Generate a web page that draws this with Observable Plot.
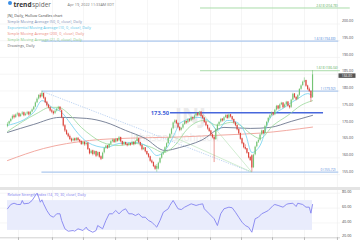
<!DOCTYPE html>
<html><head><meta charset="utf-8">
<script src="https://cdn.jsdelivr.net/npm/d3@7"></script>
<script src="https://cdn.jsdelivr.net/npm/@observablehq/plot@0.6"></script>
<style>
html,body{margin:0;padding:0;background:#fff;}
#chart{width:360px;height:240px;overflow:hidden;position:relative;}
#chart svg{display:block;}
.sep{height:3px;background:#e4e4e4;}
</style></head><body><div id="chart"></div>
<script>
// ---- daily candles (trading-day index 0..186) ----
const open = [169.4,170.1,170.9,171.6,172.5,172.1,172.9,173.2,172.4,173.0,
173.5,172.7,173.1,173.6,172.9,173.7,174.4,175.2,176.5,177.6,
178.7,178.3,179.2,177.9,176.6,175.7,175.0,174.1,173.7,173.3,
174.0,174.6,175.1,174.1,171.8,169.6,168.1,167.1,166.4,165.6,
165.1,165.7,165.2,165.9,165.3,164.9,164.1,164.7,164.0,164.4,
162.6,161.3,162.1,161.1,161.9,160.6,161.6,160.3,159.7,161.5,
162.9,163.6,163.0,164.1,164.9,165.4,164.7,165.6,165.1,166.1,
164.9,164.0,164.6,164.1,163.7,164.3,163.9,164.7,164.0,164.9,
165.7,164.6,163.7,162.5,163.0,161.9,161.1,160.3,159.1,158.6,
157.5,157.4,156.7,158.5,159.9,161.1,161.6,163.1,164.3,165.9,
167.1,168.7,170.5,171.1,170.3,169.1,168.3,168.9,170.0,170.9,
170.5,171.5,171.1,172.1,171.7,172.6,173.3,172.7,173.7,172.5,
171.9,170.7,169.7,168.7,168.0,166.9,166.1,165.5,168.5,169.9,
170.7,171.6,171.1,172.1,172.7,171.9,172.9,172.3,171.5,170.5,
169.7,168.5,167.3,165.7,164.3,163.1,162.7,161.5,160.1,160.6,
157.1,160.9,163.3,164.7,165.3,166.9,168.1,167.3,169.5,170.7,
171.9,172.7,173.5,172.9,174.3,175.5,174.7,175.9,176.4,175.1,
175.9,176.7,175.5,175.1,177.3,179.1,178.1,177.5,178.7,180.5,
181.6,182.7,183.1,181.5,180.5,179.9,178.0];
const high = [170.5,171.0,171.8,172.8,172.9,173.1,173.6,173.4,173.2,173.8,
173.7,173.4,173.9,173.8,173.9,174.6,175.4,176.7,177.9,178.9,
179.2,179.92,179.4,178.1,176.9,176.0,175.3,174.5,174.0,174.2,
174.8,175.4,175.3,174.3,172.1,169.9,168.4,167.4,166.8,165.9,
165.9,165.9,166.1,166.0,165.5,165.1,164.9,164.8,164.6,164.6,
162.8,162.3,162.3,162.1,162.0,161.8,161.7,160.6,161.7,163.1,
163.8,163.7,164.3,165.1,165.6,165.5,165.8,165.8,166.4,166.2,
165.0,164.8,164.7,164.3,164.5,164.4,164.9,164.8,165.1,166.6,
165.8,164.7,163.9,163.2,163.1,162.0,161.3,160.5,159.4,158.8,
157.8,158.0,158.7,160.1,161.3,161.9,163.3,164.5,166.1,167.3,
168.9,170.7,171.4,171.3,170.5,169.4,169.1,170.2,171.1,171.0,
171.7,171.6,172.3,172.2,172.8,173.5,173.4,173.9,173.8,172.7,
172.0,170.9,169.9,169.0,168.2,167.1,166.4,168.7,170.1,170.9,
171.8,171.7,172.3,172.9,172.8,173.1,173.0,172.4,171.6,170.7,
169.8,168.6,167.4,165.9,164.6,163.9,162.8,161.6,160.4,160.9,
161.1,163.5,164.9,165.6,167.1,168.3,168.2,169.7,170.9,172.1,
172.9,173.7,173.6,174.5,175.7,175.6,176.1,176.6,176.5,176.1,
176.9,176.8,175.7,177.5,179.3,179.2,178.2,178.9,180.7,181.8,
182.9,183.9,183.2,181.7,180.9,180.0,186.1];
const low = [169.0,169.8,170.5,171.3,171.6,171.8,172.5,172.0,172.1,172.7,
172.3,172.4,172.8,172.5,172.7,173.4,174.1,175.0,176.2,177.3,
177.7,178.0,177.5,176.2,175.2,174.6,173.7,173.2,172.8,173.0,
173.7,174.3,173.9,171.7,169.2,167.6,166.7,166.0,165.2,164.6,
164.8,164.8,164.9,164.9,164.4,163.7,163.8,163.5,163.6,162.2,
160.9,161.0,160.6,160.8,160.1,160.3,159.9,159.2,159.5,161.2,
162.6,162.5,162.8,163.8,164.5,164.3,164.4,164.7,164.9,164.5,
163.6,163.7,163.7,163.3,163.4,163.5,163.7,163.6,163.8,164.7,
164.2,163.3,162.1,162.2,161.5,160.7,159.9,158.7,158.2,157.1,
156.3,155.72,156.4,158.2,159.6,160.7,161.3,162.8,164.0,165.6,
166.8,168.4,170.1,169.9,168.7,167.8,168.0,168.6,169.7,170.0,
170.2,170.6,170.8,171.2,171.4,172.3,172.3,172.4,172.1,171.5,
170.3,169.3,168.3,167.6,166.5,165.7,158.6,165.2,168.2,169.6,
170.4,170.7,170.8,171.8,171.5,171.6,171.9,171.1,170.1,169.3,
168.1,166.9,165.3,163.9,162.7,162.3,161.1,159.7,158.9,155.72,
156.8,160.6,163.0,164.3,165.0,166.6,166.9,167.0,169.2,170.4,
171.6,172.4,172.5,172.6,174.0,174.3,174.4,175.6,174.7,174.8,
175.6,175.1,174.6,174.8,177.0,177.7,177.0,177.2,178.4,180.2,
181.3,182.4,181.1,180.1,179.5,176.6,177.8];
const close = [170.0,170.8,171.5,172.4,172.0,172.8,173.1,172.3,172.9,173.4,
172.6,173.0,173.5,172.8,173.6,174.3,175.1,176.4,177.5,178.6,
178.1,179.3,177.8,176.5,175.6,174.9,174.0,173.6,173.2,173.9,
174.5,175.0,174.2,172.0,169.5,168.0,167.0,166.3,165.5,165.0,
165.6,165.1,165.8,165.2,164.8,164.0,164.6,163.9,164.3,162.5,
161.2,162.0,161.0,161.8,160.5,161.5,160.2,159.6,161.4,162.8,
163.5,162.9,164.0,164.8,165.3,164.6,165.5,165.0,166.0,164.8,
163.9,164.5,164.0,163.6,164.2,163.8,164.6,163.9,164.8,165.6,
164.5,163.6,162.4,162.9,161.8,161.0,160.2,159.0,158.5,157.4,
156.6,156.6,158.4,159.8,161.0,161.5,163.0,164.2,165.8,167.0,
168.6,170.4,171.0,170.2,169.0,168.2,168.8,169.9,170.8,170.4,
171.4,171.0,172.0,171.6,172.5,173.2,172.6,173.6,172.4,171.8,
170.6,169.6,168.6,167.9,166.8,166.0,165.4,168.4,169.8,170.6,
171.5,171.0,172.0,172.6,171.8,172.8,172.2,171.4,170.4,169.6,
168.4,167.2,165.6,164.2,163.0,162.6,161.4,160.0,159.2,157.0,
160.8,163.2,164.6,165.2,166.8,168.0,167.2,169.4,170.6,171.8,
172.6,173.4,172.8,174.2,175.4,174.6,175.8,176.3,175.0,175.8,
176.6,175.4,175.0,177.2,179.0,178.0,177.4,178.6,180.4,181.5,
182.6,183.0,181.4,180.4,179.8,177.8,184.8];

// ---- indicators (at sample days) ----
const sma50Day = [0,16,32,48,60,72,84,96,105,118,132,148,160,173,186];
const sma50Val = [167.6,170.0,172.1,171.8,170.6,168.2,165.8,162.2,163.1,165.2,169.1,168.8,169.1,170.9,172.7];
const ema10Day = [0,16,21,28,33,37,43,49,60,68,78,86,91,96,102,105,116,124,128,134,140,145,149,154,160,168,177,183,186];
const ema10Val = [169.7,173.6,177.1,174.8,173.6,171.2,167.3,164.6,163.1,164.3,164.6,163.1,160.7,162.2,167.3,170.3,172.1,170.6,168.2,171.2,170.6,167.3,161.6,163.7,171.8,174.8,177.7,179.2,178.6];
const sma200Day = [0,22,50,75,102,130,154,186];
const sma200Val = [159.2,162.8,165.2,165.9,166.2,166.8,167.4,169.2];
const sma21Day = [0,18,26,31,37,45,51,58,68,78,88,95,102,110,120,128,136,142,148,154,162,171,179,186];
const sma21Val = [167.9,173.3,175.1,175.1,173.3,169.1,166.7,164.6,163.7,164.3,163.1,161.6,163.7,168.8,171.2,169.7,170.6,169.7,167.3,165.8,169.7,172.7,175.7,177.1];

const rsiDay = [0,2,4,6,8,9,10,13,15,17,18,19,20,21,22,24,26,28,30,32,33,35,37,40,41,43,46,48,49,52,54,55,58,60,62,64,66,68,70,72,74,76,78,80,82,84,86,88,90,91,93,95,98,99,101,104,106,108,112,115,117,119,120,123,126,128,130,132,135,137,139,141,143,145,147,149,151,153,155,157,159,162,163,165,168,170,171,174,176,177,180,182,184,185,186];
const rsiVal = [59.0,64.8,66.5,64.8,64.8,70.2,65.7,66.5,70.2,76.9,80.0,74.6,67.9,71.1,65.7,56.7,50.0,47.7,52.3,52.3,43.3,32.1,28.9,29.8,28.9,32.1,29.8,34.3,30.8,27.5,29.8,36.5,32.1,43.3,52.3,52.3,56.7,52.3,56.7,59.0,52.3,52.3,50.0,52.3,47.7,47.7,43.3,41.0,36.5,34.3,43.3,54.4,59.0,63.5,70.2,59.0,58.0,61.2,65.7,63.5,64.8,65.7,59.0,52.3,45.6,36.5,52.3,59.0,61.2,60.4,54.4,47.7,41.0,36.5,34.3,27.5,45.6,47.7,52.3,54.4,56.7,63.5,64.8,63.5,61.2,64.8,65.7,66.5,62.1,66.5,64.8,61.2,61.2,53.1,64.8];

// ---- drawings ----
const fibBlueLevel = [0, 1, 1.618];
const fibBluePrice = [155.72, 179.92, 194.88];
const fibGreenLevel = [1.618, 2.618];
const fibGreenPrice = [186.04, 204.78];
const levelLine = 173.50;
const peakDay = 21, lowDay = 149, greenStartDay = 117.7;
const fanEndDay = [118.9, 99.4];
const fanEndPrice = [173.26, 166.69];

// ---- axis ticks ----
const priceTicks = [155,160,165,170,175,180,185,190,195,200];
const rsiTicks = [20,40,60,80];
const monthGrid = [6.7,27.4,46.3,65.9,85.4,104.3,123.8,142.7,161.6,181.1,201.2];

// ---- legend text ----
const legendText = ["JNJ, Daily, Hollow Candles chart","Simple Moving Average (50, 0, close), Daily","Exponential Moving Average (10, 0, close), Daily","Simple Moving Average (200, 0, close), Daily","Simple Moving Average (21, 0, close), Daily","Drawings, Daily"];
const legendColor = ["#444","#7d8db3","#55c3e6","#ec8a80","#8ccd8c","#666"];
const C50="#6e7890", C10="#6fd0ef", C200="#f0a097", C21="#9ad89a";

// ---- build data tables ----
const candles = close.map((c,i)=>({i, o:open[i], h:high[i], l:low[i], c,
  col: (i===0 ? c>=open[i] : c>=close[i-1]) ? "#74c474" : "#dc463d"}));
const ln = (d,v)=>d.map((x,k)=>({i:x, v:v[k]}));
const blueFib = fibBlueLevel.map((l,k)=>({x1:peakDay,x2:202,y:fibBluePrice[k],lab:`${l} (${fibBluePrice[k].toFixed(2)})`}));
const greenFib = fibGreenLevel.map((l,k)=>({x1:greenStartDay,x2:k===0?203:209,y:fibGreenPrice[k],lab:`${l} (${fibGreenPrice[k].toFixed(2)})`}));
const fans = fanEndDay.map((d,k)=>({x1:lowDay,y1:low[lowDay],x2:d,y2:fanEndPrice[k]}));

const xDomain = [-4.268, 203.05];
const font = "'Open Sans', 'Liberation Sans', sans-serif";

const priceMarks = [
  Plot.ruleY(priceTicks,{stroke:"#efefef",strokeWidth:0.6}),
  Plot.ruleX(monthGrid,{stroke:"#efefef",strokeWidth:0.6}),
  Plot.text(["JNJ"],{text:d=>d,frameAnchor:"top-left",dx:190,dy:108,fontSize:21,fontWeight:"bold",fill:"#ebebeb",textAnchor:"middle"}),
  Plot.text(["Johnson & Johnson"],{text:d=>d,frameAnchor:"top-left",dx:130,dy:133,fontSize:10,fill:"#ececec",textAnchor:"start"}),
  Plot.ruleY(blueFib,{y:"y",x1:"x1",x2:"x2",stroke:"#adc8ee",strokeWidth:1.3}),
  Plot.ruleY(greenFib,{y:"y",x1:"x1",x2:"x2",stroke:"#a9dca9",strokeWidth:1}),
  Plot.link([{x1:peakDay,y1:high[peakDay],x2:lowDay,y2:low[lowDay]}],{x1:"x1",y1:"y1",x2:"x2",y2:"y2",stroke:"#9fc0ec",strokeWidth:0.7,strokeDasharray:"1.2,1.2"}),
  Plot.link(fans,{x1:"x1",y1:"y1",x2:"x2",y2:"y2",stroke:"#b4e0b4",strokeWidth:0.6}),
  Plot.ruleY([levelLine],{x1:99.4,x2:192.7,stroke:"#4767dc",strokeWidth:1.6}),
  Plot.line(ln(sma200Day,sma200Val),{x:"i",y:"v",stroke:C200,strokeWidth:0.9,curve:"monotone-x"}),
  Plot.line(ln(sma50Day,sma50Val),{x:"i",y:"v",stroke:C50,strokeWidth:0.9,curve:"monotone-x"}),
  Plot.line(ln(sma21Day,sma21Val),{x:"i",y:"v",stroke:C21,strokeWidth:0.8,curve:"monotone-x"}),
  Plot.line(ln(ema10Day,ema10Val),{x:"i",y:"v",stroke:C10,strokeWidth:0.8,curve:"monotone-x"}),
  Plot.ruleX(candles,{x:"i",y1:"l",y2:"h",stroke:"col",strokeWidth:0.55}),
  Plot.ruleX(candles,{x:"i",y1:"o",y2:"c",stroke:"col",strokeWidth:1.15}),
  Plot.text(blueFib,{x:200,y:"y",text:"lab",textAnchor:"end",dy:-2.3,fontSize:3.3,fill:"#4f86d8"}),
  Plot.text(greenFib,{x:201.3,y:"y",text:"lab",textAnchor:"end",dy:-2.3,fontSize:3.3,fill:"#58ad58"}),
  Plot.text([levelLine],{x:99.4,y:d=>d,text:d=>d.toFixed(2),textAnchor:"end",dx:-1.5,fontSize:5.8,fontWeight:"bold",fill:"#3f62d8"}),
  Plot.text(["trend"],{text:d=>d,frameAnchor:"top-left",dx:13,dy:2.3,fontSize:6.5,fontWeight:"bold",fill:"#333",textAnchor:"start"}),
  Plot.text(["spider"],{text:d=>d,frameAnchor:"top-left",dx:31.5,dy:2.3,fontSize:6.5,fill:"#666",textAnchor:"start"}),
  Plot.dot([0],{frameAnchor:"top-left",dx:9.5,dy:2.5,r:2,fill:"#3a8ee6"}),
  Plot.text(["Apr 19, 2022 11:33AM EDT"],{text:d=>d,frameAnchor:"top-left",dx:67,dy:2.3,fontSize:3.8,fill:"#777",textAnchor:"start"}),
  ...legendText.map((t,k)=>Plot.text([t],{text:d=>d,frameAnchor:"top-left",dx:7,dy:13.3+k*6.15,fontSize:3.8,fill:legendColor[k],textAnchor:"start"})),
  Plot.axisY({ticks:priceTicks,anchor:"right",tickSize:0,tickPadding:1.5,fontSize:3.6,fill:"#444",tickFormat:d=>d.toFixed(2),dy:-2.9})
];

const price = Plot.plot({
  width:360,height:187,marginLeft:0,marginTop:0,marginBottom:0,marginRight:20,
  x:{domain:xDomain,axis:null},y:{domain:[151.15,207.02],axis:null},
  style:{background:"transparent",fontFamily:font,overflow:"visible"},
  marks:priceMarks
});

// last-price tag placed through the plot's own y scale
const last = candles[candles.length-1];
const py = price.scale("y").apply(last.c);
const sv = d3.select(price);
sv.append("rect").attr("x",338.5).attr("y",py-1.0).attr("width",17).attr("height",4.5).attr("fill","#555");
sv.append("text").attr("x",347).attr("y",py+2.3).attr("text-anchor","middle").attr("font-size",3.3).attr("font-family",font).attr("fill","#fff").text(last.c.toFixed(2));

const rsi = Plot.plot({
  width:360,height:50,marginLeft:0,marginTop:0,marginBottom:0,marginRight:20,
  x:{domain:xDomain,axis:null},y:{domain:[16.37,83.63],axis:null},
  style:{background:"transparent",fontFamily:font,overflow:"visible"},
  marks:[
    Plot.ruleY(rsiTicks,{stroke:"#f0f0f0",strokeWidth:0.6}),
    Plot.ruleX(monthGrid,{stroke:"#efefef",strokeWidth:0.6}),
    Plot.rect([{x1:0,x2:186,y1:30,y2:70}],{x1:"x1",x2:"x2",y1:"y1",y2:"y2",fill:"#e9ecfc"}),
    Plot.ruleY([20],{stroke:"#bbb",strokeWidth:0.6}),
    Plot.ruleX(monthGrid,{y1:20,y2:16.37,stroke:"#999",strokeWidth:0.6}),
    Plot.line(ln(rsiDay,rsiVal),{x:"i",y:"v",stroke:"#8383f1",strokeWidth:0.9}),
    Plot.text(["Relative Strength Index (14, 70, 30, close), Daily"],{text:d=>d,frameAnchor:"top-left",dx:7,dy:2.7,fontSize:3.6,fill:"#7777ee",textAnchor:"start"}),
    Plot.axisY({ticks:rsiTicks,anchor:"right",tickSize:0,tickPadding:1.5,fontSize:3.7,fill:"#444",tickFormat:d=>d.toFixed(2),dy:-1.5})
  ]
});

const root = document.getElementById("chart");
root.appendChild(price);
const sep = document.createElement("div"); sep.className="sep"; root.appendChild(sep);
root.appendChild(rsi);
</script></body></html>
